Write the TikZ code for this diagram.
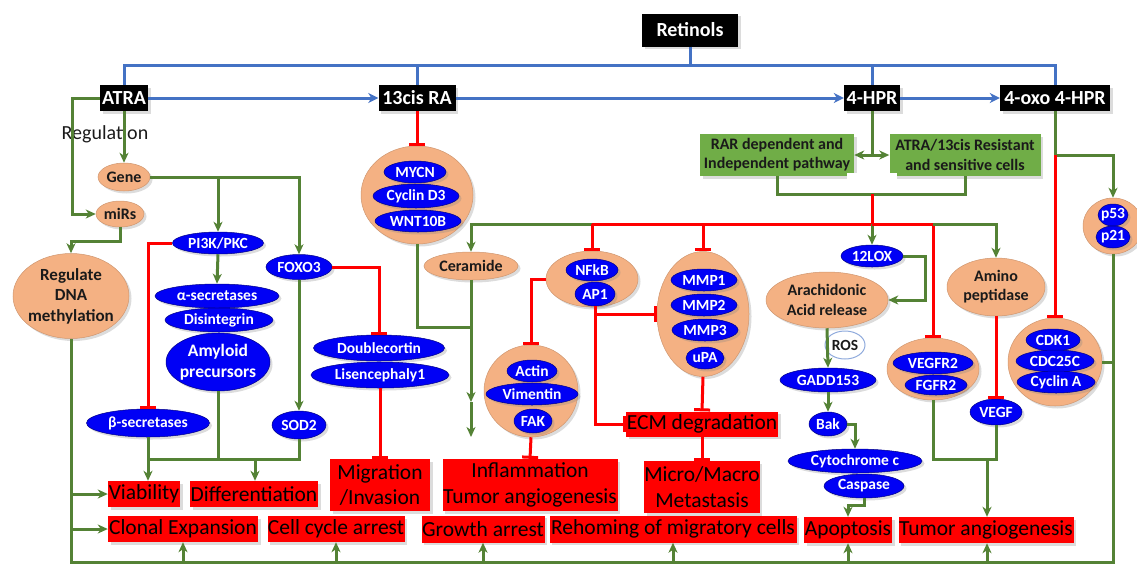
\documentclass[tikz,border=0pt]{standalone}
\usepackage{fontspec}
\setmainfont{Carlito}
\usetikzlibrary{shapes.geometric,arrows.meta,shadows}
\definecolor{lblue}{HTML}{4472C4}
\definecolor{lgreen}{HTML}{548235}
\definecolor{bgreen}{HTML}{70AD47}
\definecolor{salm}{HTML}{F4B183}
\definecolor{nblue}{HTML}{0000F5}
\definecolor{rred}{HTML}{FF0000}
\definecolor{dtext}{HTML}{1A1A1A}
\newcommand\fsz[1]{\fontsize{#1}{\dimexpr#1pt*6/5\relax}\selectfont}
\tikzset{
 shad/.style={drop shadow={opacity=0.28,shadow xshift=2.5pt,shadow yshift=-2.5pt}},
 blk/.style={rectangle,fill=black,text=white,font=\fsz{20}\bfseries,inner sep=1pt,minimum height=26pt,shad},
 gbox/.style={rectangle,fill=bgreen,text=dtext,font=\fsz{16}\bfseries,align=center,inner sep=0pt,shad},
 sal/.style={ellipse,fill=salm,draw=salm!85!black,line width=0.5pt,text=dtext,font=\fsz{16}\bfseries,align=center,inner xsep=-4pt,inner ysep=-1pt,shad},
 blu/.style={ellipse,fill=nblue,draw=nblue!55!black,line width=0.5pt,text=white,font=\fsz{15.5}\bfseries,align=center,inner xsep=-6pt,inner ysep=-1pt,shad},
 rbox/.style={rectangle,fill=rred,text=black,font=\fsz{21.5},align=center,inner sep=0pt,shad},
 lnb/.style={lblue,line width=3pt},
 lnba/.style={lnb,-{Stealth[length=10pt,width=10pt,inset=3pt]}},
 lng/.style={lgreen,line width=3pt},
 lnga/.style={lng,-{Stealth[length=10pt,width=9pt,inset=3pt]}},
 lngaa/.style={lng,{Stealth[length=10pt,width=9pt,inset=3pt]}-{Stealth[length=10pt,width=9pt,inset=3pt]}},
 lnr/.style={rred,line width=3pt},
 lninh/.style={lnr,-{Bar[width=16pt,line width=3pt]}},
}
\begin{document}
\begin{tikzpicture}[x=1pt,y=-1pt]
\useasboundingbox (0,0) rectangle (1137,566);
% black boxes
\node[blk,minimum width=96pt,minimum height=33pt] (ret) at (690,30) {Retinols};
\node[blk,minimum width=48pt] (atra) at (124,98) {ATRA};
\node[blk,minimum width=77pt] (cis) at (417,98) {13cis RA};
\node[blk,minimum width=56pt] (hpr) at (872,98) {4-HPR};
\node[blk,minimum width=110pt] (oxo) at (1055,98) {4-oxo 4-HPR};
\node[font=\fsz{20},text=dtext,inner sep=0pt] (reg) at (105,134) {Regulation};
% green boxes
\node[gbox,minimum width=154pt,minimum height=42pt] (rar) at (777,155) {RAR dependent and\\Independent pathway};
\node[gbox,minimum width=151pt,minimum height=42pt] (a13) at (965,155) {ATRA/13cis Resistant\\and sensitive cells};
\fill[white] (847,173) rectangle (897,193);
% salmon + blue left
\node[sal,minimum width=52pt,minimum height=28pt] (gene) at (124,177) {Gene};
\node[sal,minimum width=48pt,minimum height=26pt] (mirs) at (120,214) {miRs};
\node[sal,minimum width=116pt,minimum height=85pt,font=\fsz{17}\bfseries] (dna) at (71,296) {Regulate\\DNA\\methylation};
\node[blu,minimum width=91pt,minimum height=22pt] (pi3k) at (218,243) {PI3K/PKC};
\node[blu,minimum width=124pt,minimum height=24pt] (asec) at (217,296) {α-secretases};
\node[blu,minimum width=108pt,minimum height=24pt] (dis) at (219,320) {Disintegrin};
\node[blu,minimum width=104pt,minimum height=58pt,font=\fsz{17.5}\bfseries] (amy) at (218,362) {Amyloid\\precursors};
\node[blu,minimum width=123pt,minimum height=28pt] (bsec) at (148,423) {β-secretases};
\node[blu,minimum width=66pt,minimum height=25pt] (foxo) at (299,267) {FOXO3};
\node[blu,minimum width=54pt,minimum height=28pt] (sod) at (299,425) {SOD2};
\node[blu,minimum width=131pt,minimum height=26pt] (dbl) at (379,348) {Doublecortin};
\node[blu,minimum width=138pt,minimum height=26pt] (lis) at (380,375) {Lisencephaly1};
% middle groups
\node[sal,minimum width=112pt,minimum height=98pt] (mycg) at (417,195) {};
\node[blu,minimum width=62pt,minimum height=22pt] (mycn) at (415,172) {MYCN};
\node[blu,minimum width=86pt,minimum height=24pt] (cyc) at (416,196) {Cyclin D3};
\node[blu,minimum width=86pt,minimum height=22pt] (wnt) at (418,221) {WNT10B};
\node[sal,minimum width=94pt,minimum height=28pt] (cer) at (471,266) {Ceramide};
\node[sal,minimum width=92pt,minimum height=56pt] (nfg) at (592,279) {};
\node[blu,minimum width=52pt,minimum height=22pt] (nfkb) at (592,270) {NFkB};
\node[blu,minimum width=40pt,minimum height=24pt] (ap1) at (595,294) {AP1};
\node[sal,minimum width=92pt,minimum height=125pt] (mmpg) at (703,314) {};
\node[blu,minimum width=66pt,minimum height=22pt] (mmp1) at (704,280) {MMP1};
\node[blu,minimum width=66pt,minimum height=22pt] (mmp2) at (704,305) {MMP2};
\node[blu,minimum width=66pt,minimum height=22pt] (mmp3) at (705,330) {MMP3};
\node[blu,minimum width=38pt,minimum height=22pt] (upa) at (705,358) {uPA};
\node[sal,minimum width=94pt,minimum height=92pt] (actg) at (531,391) {};
\node[blu,minimum width=50pt,minimum height=22pt] (act) at (532,371) {Actin};
\node[blu,minimum width=92pt,minimum height=22pt] (vim) at (532,394) {Vimentin};
\node[blu,minimum width=38pt,minimum height=24pt] (fak) at (533,421) {FAK};
% right
\node[blu,minimum width=62pt,minimum height=22pt] (lox) at (872,256) {12LOX};
\node[sal,minimum width=122pt,minimum height=56pt] (arach) at (827,300) {Arachidonic\\Acid release};
\node[ellipse,draw=lblue!60,line width=1pt,minimum width=40pt,minimum height=28pt,inner sep=0pt,font=\fsz{15.5}\bfseries,text=dtext] (ros) at (845,345) {ROS};
\node[blu,minimum width=96pt,minimum height=24pt] (gadd) at (828,380) {GADD153};
\node[blu,minimum width=38pt,minimum height=24pt] (bak) at (828,424) {Bak};
\node[blu,minimum width=134pt,minimum height=24pt] (cyto) at (855,461) {Cytochrome c};
\node[blu,minimum width=80pt,minimum height=24pt] (casp) at (864,486) {Caspase};
\node[sal,minimum width=92pt,minimum height=62pt] (vgg) at (933,369) {};
\node[blu,minimum width=80pt,minimum height=22pt] (vegfr) at (933,363) {VEGFR2};
\node[blu,minimum width=62pt,minimum height=20pt] (fgfr) at (936,385) {FGFR2};
\node[sal,minimum width=98pt,minimum height=58pt] (amino) at (996,287) {Amino\\peptidase};
\node[blu,minimum width=52pt,minimum height=26pt] (vegf) at (996,412) {VEGF};
\node[sal,minimum width=94pt,minimum height=88pt] (cdkg) at (1055,362) {};
\node[blu,minimum width=54pt,minimum height=22pt] (cdk1) at (1053,340) {CDK1};
\node[blu,minimum width=78pt,minimum height=22pt] (cdc) at (1055,361) {CDC25C};
\node[blu,minimum width=78pt,minimum height=22pt] (cyca) at (1056,382) {Cyclin A};
\node[sal,minimum width=60pt,minimum height=56pt] (p53g) at (1113,226) {};
\node[blu,minimum width=30pt,minimum height=22pt] (p53) at (1113,215) {p53};
\node[blu,minimum width=34pt,minimum height=22pt] (p21) at (1113,237) {p21};
% red outcome boxes
\node[rbox,minimum width=72pt,minimum height=26pt] (via) at (144,494) {Viability};
\node[rbox,minimum width=128pt,minimum height=26pt] (dif) at (254,494) {Differentiation};
\node[rbox,minimum width=150pt,minimum height=26pt] (clon) at (183,529) {Clonal Expansion};
\node[rbox,minimum width=137pt,minimum height=26pt] (cca) at (336,529) {Cell cycle arrest};
\node[rbox,minimum width=100pt,minimum height=52pt] (mig) at (380,485) {Migration\\/Invasion};
\node[rbox,minimum width=175pt,minimum height=52pt] (infl) at (530,485) {Inflammation\\Tumor angiogenesis};
\node[rbox,minimum width=123pt,minimum height=27pt] (gro) at (483,529) {Growth arrest};
\node[rbox,minimum width=247pt,minimum height=27pt] (reh) at (673,529) {Rehoming of migratory cells};
\node[rbox,minimum width=152pt,minimum height=25pt] (ecm) at (702,424) {ECM degradation};
\node[rbox,minimum width=115pt,minimum height=52pt] (meta) at (702,487) {Micro/Macro\\Metastasis};
\node[rbox,minimum width=88pt,minimum height=26pt] (apo) at (848,530) {Apoptosis};
\node[rbox,minimum width=175pt,minimum height=26pt] (tang) at (986,530) {Tumor angiogenesis};
% junctions
\coordinate (rj) at (690,65);
\coordinate (gj) at (872,194);
\coordinate (hj) at (872,224);
\coordinate (rj2) at (592,224);
\coordinate (mj) at (703,224);
\coordinate (vj) at (933,224);
\coordinate (cj) at (471,327);
\coordinate (cm) at (471,402);
\coordinate (ce) at (471,437);
\coordinate (dj) at (255,459);
\coordinate (tj) at (987,459);
\coordinate (bl) at (71,562);
\coordinate (br) at (1113,562);
\coordinate (oj) at (1055,155);
% blue connectors
\draw[lnb] (ret.south) -- (rj);
\draw[lnb] (atra.north) -- (atra.north |- rj) -- (oxo.north |- rj) -- (oxo.north);
\draw[lnb] (cis.north) -- (cis.north |- rj);
\draw[lnb] (hpr.north) -- (hpr.north |- rj);
\draw[lnba] (atra) -- (cis);
\draw[lnba] (cis) -- (hpr);
\draw[lnba] (hpr) -- (oxo);
% left side
\draw[lnga] (atra.south) -- (gene.north);
\draw[lnga] (atra.west) -- ++(-27,0) |- (mirs.west);
\draw[lnga] (mirs.south) -- ++(0,14) -| (dna.north);
\draw[lng] (dna.south) -- (bl) -- (br) -- (p53g.south);
\draw[lnga] (via.west -| bl) -- (via.west);
\draw[lnga] (clon.west -| bl) -- (clon.west);
\foreach \n in {clon,cca,gro,reh,apo} \draw[lnga] (\n.south |- bl) -- (\n.south);
\draw[lnga] (tj |- bl) -- (tj |- tang.south);
\draw[lng] (cdkg.east) -- (cdkg.east -| br);
\draw[lnga] (gene.east) -| (pi3k.north);
\draw[lnga] (gene.east) -| (foxo.north);
\draw[lnga] (pi3k.south) -- (asec.north);
\draw[lninh] (pi3k.west) -| (bsec.north);
\draw[lnga] (bsec.south) -- (bsec.south |- via.north);
\draw[lng] (amy.south) -- (amy.south |- dj);
\draw[lng] (sod.south) -- (sod.south |- dj) -- (bsec.south |- dj);
\draw[lnga] (dj) -- (dj |- dif.north);
\draw[lnga] (foxo.south) -- (sod.north);
\draw[lninh] (foxo.east) -| (dbl.north);
\draw[lninh] (lis.south) -- (mig.north);
% middle
\draw[lninh] (cis.south) -- (mycg.north);
\draw[lng] (mycg.south) |- (cj);
\draw[lnga] (cer.south) -- (cm);
\draw[lnga] (cm) -- (ce);
\draw[lnga] (rj2) -| (cer.north);
\draw[lng] (rar.south) -- (rar.south |- gj) -- (a13.south |- gj) -- (a13.south);
\draw[lnr] (gj) -- (hj) -- (rj2);
\draw[lninh] (rj2) -- (nfg.north);
\draw[lninh] (mj) -- (mmpg.north);
\draw[lnga] (hj) -- (lox.north);
\draw[lnr] (hj) -- (vj);
\draw[lninh] (vj) -- (vgg.north);
\draw[lnga] (vj) -| (amino.north);
\draw[lng] (hpr.south) -- (hpr.south |- rar.east);
\draw[lngaa] (rar.east) -- (a13.west);
\draw[lng] (oxo.south) -- (oj);
\draw[lnga] (oj) -| (p53g.north);
\draw[lninh] (oj) -- (cdkg.north);
\draw[lninh] (nfg.west) -| (actg.north);
\draw[lninh] (ap1.south) |- (ecm.west);
\draw[lninh] (ap1.south |- mmpg.west) -- (mmpg.west);
\draw[lninh] (mmpg.south) -- (ecm.north);
\draw[lninh] (ecm.south) -- (meta.north);
\draw[lninh] (actg.south) -- (infl.north);
% right
\draw[lnga] (lox.east) -- ++(22,0) |- (arach.east);
\draw[lnga] (arach.south) -- (gadd.north);
\draw[lnga] (gadd.south) -- (bak.north);
\draw[lnga] (bak.east) -| (cyto.north);
\draw[lnga] (casp.south) -- ++(0,7) -| (apo.north);
\draw[lng] (vgg.south) |- (tj) -| (vegf.south);
\draw[lnga] (tj) -- (tj |- tang.north);
\draw[lninh] (amino.south) -- (vegf.north);
\end{tikzpicture}
\end{document}
